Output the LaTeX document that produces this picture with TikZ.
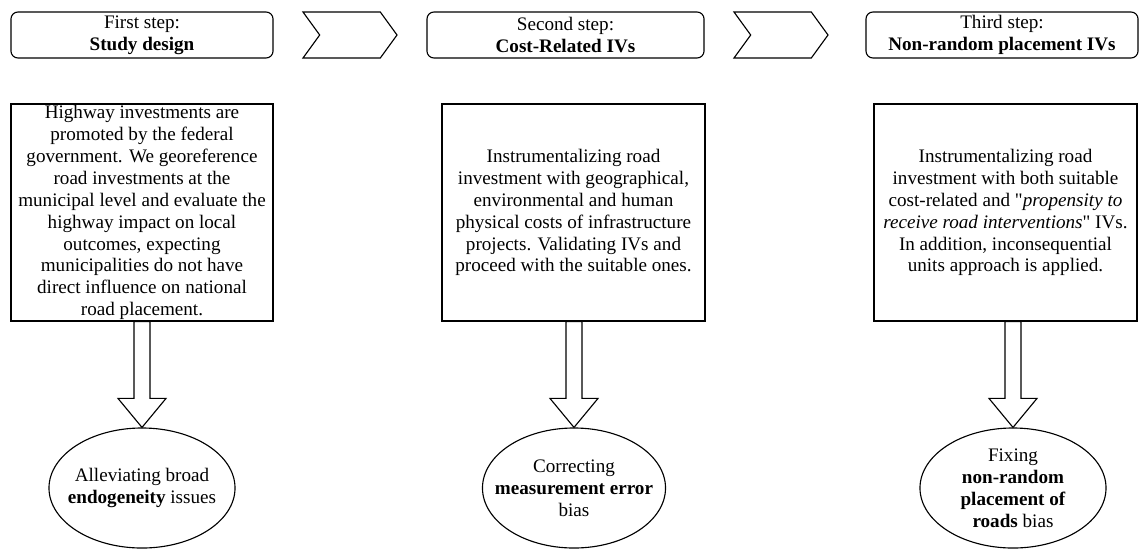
\documentclass[tikz,border=0pt]{standalone}
\usepackage{fontspec}
\setmainfont{Liberation Serif}
\usetikzlibrary{shapes.geometric, shapes.symbols, positioning, calc}
\newcommand{\bodyfont}{\fontsize{13.6}{15.6}\selectfont}
\tikzset{
  % Box styles
  headbox/.style={rectangle, rounded corners=5pt, draw, line width=0.8pt, minimum width=6.55cm, minimum height=1.15cm, align=center, inner sep=1pt, font=\bodyfont},
  chevron/.style={signal, signal from=west, signal to=east, signal pointer angle=108, draw, line width=0.8pt, minimum width=2.35cm, minimum height=1.15cm, inner sep=0pt},
  textbox/.style={rectangle, draw, line width=0.8pt, minimum width=6.55cm, minimum height=5.425cm, align=center, inner sep=0pt, font=\bodyfont},
  resultnode/.style={ellipse, draw, line width=0.8pt, minimum width=4.65cm, minimum height=3cm, align=center, inner xsep=-20pt, inner ysep=0pt, font=\bodyfont},
  % Arrow styles
  blockarrow/.style={draw, line width=0.8pt, fill=white, line join=miter}
}
\begin{document}
\begin{tikzpicture}[x=0.025cm, y=-0.025cm]
  \useasboundingbox (0,0) rectangle (1140,549);

  % Step headers
  \node[headbox] (h1) at (142,35) {First step:\\\textbf{Study design}};
  \node[chevron] (c1) at (350,35) {};
  \node[headbox, minimum width=6.925cm] (h2) at (565.5,35) {Second step:\\\textbf{Cost-Related IVs}};
  \node[chevron] (c2) at (781,35) {};
  \node[headbox, minimum width=6.8cm] (h3) at (1002,35) {Third step:\\\textbf{Non-random placement IVs}};

  % Descriptions
  \node[textbox] (b1) at (142,212.5) {
    Highway investments are\\
    promoted by the federal\\
    government. We georeference\\
    road investments at the\\
    municipal level and evaluate the\\
    highway impact on local\\
    outcomes, expecting\\
    municipalities do not have\\
    direct influence on national\\
    road placement.
  };
  \node[textbox, minimum width=6.575cm] (b2) at (573.5,212.5) {
    Instrumentalizing road\\
    investment with geographical,\\
    environmental and human\\
    physical costs of infrastructure\\
    projects. Validating IVs and\\
    proceed with the suitable ones.
  };
  \node[textbox, minimum width=6.575cm] (b3) at (1005.5,212.5) {
    Instrumentalizing road\\
    investment with both suitable\\
    cost-related and \textquotedbl\textit{propensity to}\\
    \textit{receive road interventions}\textquotedbl{} IVs.\\
    In addition, inconsequential\\
    units approach is applied.
  };

  % Outcomes
  \node[resultnode] (e1) at (142,488) {Alleviating broad\\\textbf{endogeneity} issues};
  \node[resultnode, minimum width=4.575cm] (e2) at (574,488) {Correcting\\\textbf{measurement error}\\bias};
  \node[resultnode] (e3) at (1013,488) {Fixing\\\textbf{non-random}\\\textbf{placement of}\\\textbf{roads} bias};

  % Block arrows
  \foreach \src/\dst in {b1/e1, b2/e2, b3/e3}
    \draw[blockarrow] (\dst.north) -- ++(-24,-29) -- ++(16,0)
      -- ($(\dst.north |- \src.south)+(-8,0)$) -- ++(16,0)
      -- ($(\dst.north)+(8,-29)$) -- ++(16,0) -- cycle;
\end{tikzpicture}
\end{document}
